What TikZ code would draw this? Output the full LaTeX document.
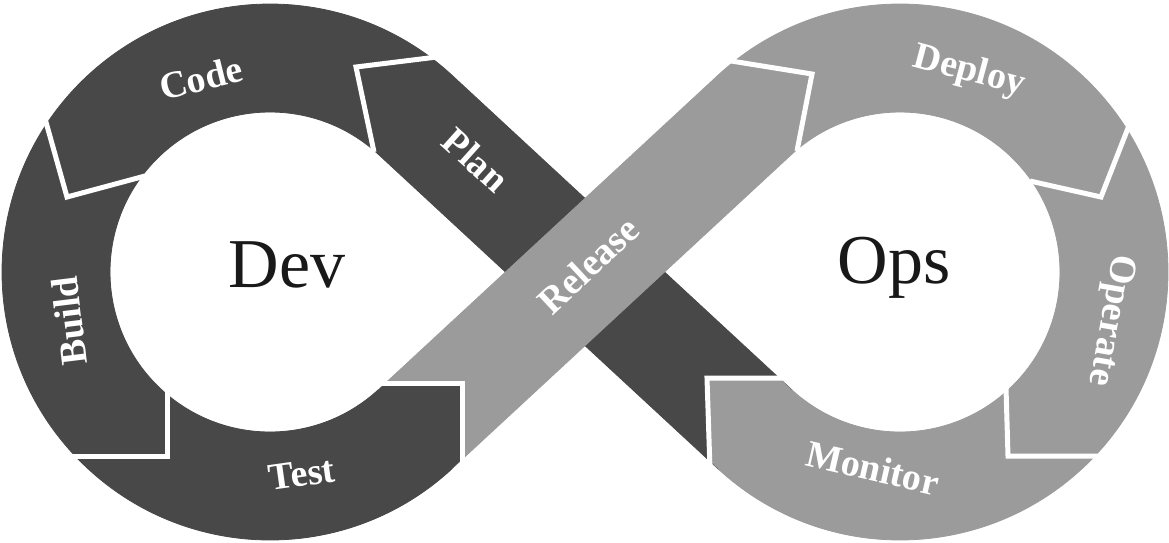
\documentclass[tikz,border=0pt]{standalone}
\usepackage{fontspec}
\setmainfont{Liberation Serif}
\usetikzlibrary{calc}
\definecolor{darkseg}{HTML}{484848}
\definecolor{lightseg}{HTML}{9B9B9B}
\begin{document}
\begin{tikzpicture}[x=1pt,y=-1pt,
  sep/.style={white,line width=5pt,line join=miter},
  dk/.style={fill=darkseg,draw=darkseg,line width=0.8pt},
  lt/.style={fill=lightseg,draw=lightseg,line width=0.8pt},
  lbl/.style={white,font=\bfseries\fontsize{38}{40}\selectfont,inner sep=0pt},
  big/.style={text=black!90,font=\fontsize{70}{72}\selectfont,inner sep=0pt}]
\useasboundingbox (0,0) rectangle (1169,542);
\fill[white] (0,0) rectangle (1169,542);
\coordinate (C1) at (270,272);
\coordinate (C2) at (900,272);
% left ring (Dev)
\path[dk] ($(C1)+(47.3:268)$) arc[start angle=47.3,end angle=312.7,radius=268]
  -- ($(C1)+(312.7:160)$) arc[start angle=312.7,end angle=47.3,radius=160] -- cycle;
% right ring (Ops)
\path[lt] ($(C2)+(-132.7:268)$) arc[start angle=-132.7,end angle=132.7,radius=268]
  -- ($(C2)+(132.7:160)$) arc[start angle=132.7,end angle=-132.7,radius=160] -- cycle;
% Plan band
\path[dk] ($(C1)+(-47.3:268)$) -- ($(C2)+(132.7:160)$) -- ($(C2)+(132.7:268)$) -- ($(C1)+(-47.3:160)$) -- cycle;
% Release band
\path[lt] ($(C1)+(47.3:268)$) -- ($(C2)+(-132.7:160)$) -- ($(C2)+(-132.7:268)$) -- ($(C1)+(47.3:160)$) -- cycle;
% Test tip
\begin{scope}[even odd rule]
\clip (C1) circle[radius=268] (C1) circle[radius=160];
\fill[darkseg] (462,383) rectangle (300,600);
\end{scope}
% Monitor tip
\begin{scope}[even odd rule]
\clip (C2) circle[radius=268] (C2) circle[radius=160];
\fill[lightseg] (707,378) rectangle (870,600);
\end{scope}
% separators
\draw[sep] (445,56) -- (356,67) -- (374,152);
\draw[sep] (44,115) -- (67,197) -- (145,176);
\draw[sep] (60,456) -- (167,456) -- (167,390);
\draw[sep] (380,383) -- (462,383) -- (462,472);
\draw[sep] (725,60) -- (812,74) -- (797,151);
\draw[sep] (1130,123) -- (1101,197) -- (1030,181);
\draw[sep] (1100,456) -- (1008,456) -- (1006,388);
\draw[sep] (785,378) -- (707,378) -- (710,470);
% labels
\node[lbl,rotate=14] (code) at (201,78) {Code};
\node[lbl,rotate=-42] (plan) at (476,160) {Plan};
\node[lbl,rotate=97] (build) at (69,321) {Build};
\node[lbl,rotate=8] (test) at (302,474) {Test};
\node[lbl,rotate=43] (release) at (588,265) {Release};
\node[lbl,rotate=-15] (deploy) at (969,72) {Deploy};
\node[lbl,rotate=-100] (operate) at (1110,320) {Operate};
\node[lbl,rotate=-13] (monitor) at (873,468) {Monitor};
\node[big] (dev) at (287,265) {Dev};
\node[big] (ops) at (894,268) {Ops};
\end{tikzpicture}
\end{document}
